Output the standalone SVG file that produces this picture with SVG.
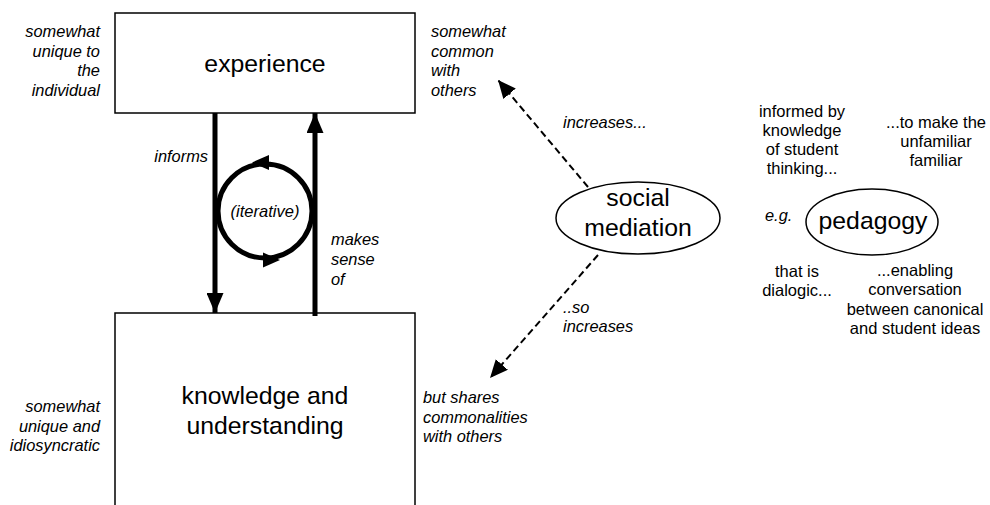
<svg xmlns="http://www.w3.org/2000/svg" width="990" height="505" viewBox="0 0 990 505">
<style>
.box{fill:#fff;stroke:#000;stroke-width:1.5}
.ell{fill:#fff;stroke:#000;stroke-width:1.5}
.big{font-family:"Liberation Sans",Arial,sans-serif;font-size:24.8px;fill:#000}
.lab{font-family:"Liberation Sans",Arial,sans-serif;font-size:16.5px;fill:#000}
.it{font-family:"Liberation Sans",Arial,sans-serif;font-size:16.4px;font-style:italic;fill:#000}
.thick{stroke:#000;stroke-width:5;fill:none}
.dash{stroke:#000;stroke-width:2;stroke-dasharray:7,4;fill:none}
</style>
<defs>
<marker id="ah" viewBox="0 0 20 17" refX="20" refY="8.5" markerWidth="4" markerHeight="3.4" orient="auto" markerUnits="strokeWidth"><path d="M0,0 L20,8.5 L0,17 z" fill="#000"/></marker>
<marker id="ahd" viewBox="0 0 10 9" refX="10" refY="4.5" markerWidth="9" markerHeight="8.1" orient="auto" markerUnits="strokeWidth"><path d="M0,0 L10,4.5 L0,9 z" fill="#000"/></marker>
</defs>
<g id="experience">
<rect class="box" x="115" y="13" width="300" height="100"/>
<text class="big" x="265" y="72" text-anchor="middle">experience</text>
</g>
<g id="knowledge">
<rect class="box" x="115" y="313" width="300" height="210"/>
<text class="big" x="265" y="404" text-anchor="middle">knowledge and</text>
<text class="big" x="265" y="434" text-anchor="middle">understanding</text>
</g>
<g id="social-mediation">
<ellipse class="ell" cx="638" cy="218" rx="82" ry="36"/>
<text class="big" x="638" y="206" text-anchor="middle" font-size="24px">social</text>
<text class="big" x="638" y="236" text-anchor="middle" font-size="24px">mediation</text>
</g>
<g id="pedagogy">
<ellipse class="ell" cx="872" cy="222" rx="66" ry="33"/>
<text class="big" x="873" y="229" text-anchor="middle">pedagogy</text>
</g>
<g id="connectors">
<line class="thick" x1="215" y1="113" x2="215" y2="313" marker-end="url(#ah)"/>
<line class="thick" x1="315" y1="316" x2="315" y2="113" marker-end="url(#ah)"/>
<circle class="thick" cx="265" cy="211" r="47"/>
<path d="M252,162.5 L269,155 L269,170 z" fill="#000"/>
<path d="M280,260 L263,252.5 L263,267.5 z" fill="#000"/>
<line class="dash" x1="588" y1="187" x2="498" y2="80" marker-end="url(#ahd)"/>
<line class="dash" x1="598" y1="255" x2="490" y2="378" marker-end="url(#ahd)"/>
</g>
<g id="labels">
<text class="it" text-anchor="end"><tspan x="100" y="37">somewhat</tspan><tspan x="100" y="56.5">unique to</tspan><tspan x="100" y="76">the</tspan><tspan x="100" y="95.5">individual</tspan></text>
<text class="it"><tspan x="431" y="37">somewhat</tspan><tspan x="431" y="56.5">common</tspan><tspan x="431" y="76">with</tspan><tspan x="431" y="95.5">others</tspan></text>
<text class="it" x="208" y="162" text-anchor="end">informs</text>
<text class="lab" x="265" y="217" text-anchor="middle" font-style="italic">(iterative)</text>
<text class="it"><tspan x="331" y="245">makes</tspan><tspan x="331" y="265">sense</tspan><tspan x="331" y="285">of</tspan></text>
<text class="it" x="563" y="128">increases...</text>
<text class="it"><tspan x="563" y="313">..so</tspan><tspan x="563" y="332">increases</tspan></text>
<text class="it"><tspan x="423" y="403">but shares</tspan><tspan x="423" y="422.5">commonalities</tspan><tspan x="423" y="442">with others</tspan></text>
<text class="it" text-anchor="end"><tspan x="100" y="412">somewhat</tspan><tspan x="100" y="431.5">unique and</tspan><tspan x="100" y="451">idiosyncratic</tspan></text>
<text class="it" x="765" y="221">e.g.</text>
<text class="lab" text-anchor="middle"><tspan x="802" y="117">informed by</tspan><tspan x="802" y="136">knowledge</tspan><tspan x="802" y="155">of student</tspan><tspan x="802" y="174">thinking...</tspan></text>
<text class="lab" text-anchor="middle"><tspan x="936" y="128">...to make the</tspan><tspan x="936" y="147">unfamiliar</tspan><tspan x="936" y="166">familiar</tspan></text>
<text class="lab" text-anchor="middle"><tspan x="797" y="277">that is</tspan><tspan x="797" y="296">dialogic...</tspan></text>
<text class="lab" text-anchor="middle"><tspan x="915" y="276">...enabling</tspan><tspan x="915" y="295">conversation</tspan><tspan x="915" y="314.5">between canonical</tspan><tspan x="915" y="334">and student ideas</tspan></text>
</g>
</svg>
